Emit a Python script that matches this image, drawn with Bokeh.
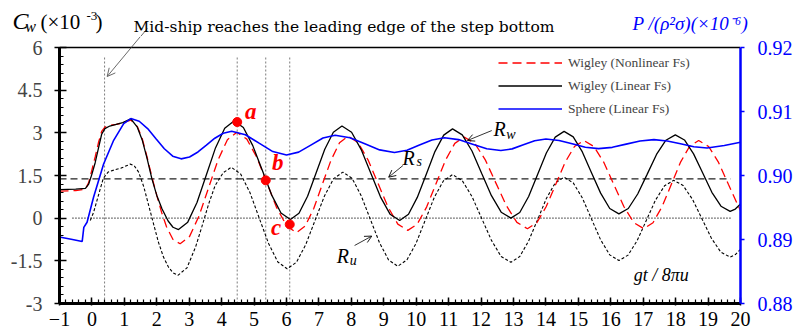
from bokeh.plotting import figure
from bokeh.layouts import column
from bokeh.models import (Range1d, LinearAxis, FixedTicker, Label, Arrow,
                          OpenHead, Legend, LegendItem)
from bokeh.embed import file_html
from bokeh.resources import INLINE

# ---- time axis (gt / 8*pi*u) and curves -------------------------------------
# Wigley hull, nonlinear free surface (Cw x 1e-3)
wn_x = [-1, -0.5, -0.2, -0.1, 0.0, 0.1, 0.2, 0.3, 0.4, 0.55, 0.75, 0.95, 1.2,
        1.4, 1.55, 1.7, 1.85, 2.0, 2.15, 2.3, 2.5, 2.72,
        3.012, 3.303, 3.595, 3.887, 4.178, 4.47,
        4.777, 5.083, 5.39, 5.697, 6.003, 6.31,
        6.575, 6.84, 7.105, 7.37, 7.635, 7.9,
        8.207, 8.513, 8.82, 9.127, 9.433, 9.74,
        10.03, 10.32, 10.61, 10.9, 11.19, 11.48,
        11.805, 12.13, 12.455, 12.78, 13.105, 13.43,
        13.72, 14.01, 14.3, 14.59, 14.88, 15.17,
        15.478, 15.787, 16.095, 16.403, 16.712, 17.02,
        17.302, 17.583, 17.865, 18.147, 18.428, 18.71,
        19.017, 19.323, 19.63, 19.937, 20.0]
wn_y = [0.95, 0.97, 1.02, 1.25, 1.7, 2.15, 2.65, 3.05, 3.2, 3.26, 3.3, 3.35, 3.45,
        3.22, 2.8, 2.15, 1.45, 0.8, 0.2, -0.3, -0.75, -0.90,
        -0.64, 0.08, 1.06, 2.04, 2.76, 3.02,
        2.78, 2.14, 1.26, 0.37, -0.27, -0.51,
        -0.28, 0.34, 1.19, 2.03, 2.65, 2.88,
        2.66, 2.05, 1.23, 0.40, -0.21, -0.43,
        -0.21, 0.39, 1.21, 2.03, 2.63, 2.85,
        2.63, 2.05, 1.24, 0.44, -0.15, -0.37,
        -0.16, 0.41, 1.18, 1.96, 2.52, 2.73,
        2.52, 1.96, 1.18, 0.41, -0.16, -0.37,
        -0.16, 0.41, 1.18, 1.96, 2.52, 2.73,
        2.52, 1.96, 1.18, 0.41, 0.27]

# Wigley hull, linear free surface: R_w
wl_x = [-1, -0.5, -0.2, -0.1, 0.0, 0.1, 0.2, 0.3, 0.4, 0.55, 0.75, 0.95, 1.2,
        1.4, 1.55, 1.7, 1.85, 2.0, 2.16, 2.35, 2.5, 2.67,
        2.955, 3.24, 3.525, 3.81, 4.095, 4.38,
        4.67, 4.96, 5.25, 5.54, 5.83, 6.12,
        6.385, 6.65, 6.915, 7.18, 7.445, 7.71,
        8.007, 8.303, 8.6, 8.897, 9.193, 9.49,
        9.762, 10.033, 10.305, 10.577, 10.848, 11.12,
        11.42, 11.72, 12.02, 12.32, 12.62, 12.92,
        13.193, 13.467, 13.74, 14.013, 14.287, 14.56,
        14.842, 15.123, 15.405, 15.687, 15.968, 16.25,
        16.54, 16.83, 17.12, 17.41, 17.7, 17.99,
        18.272, 18.553, 18.835, 19.117, 19.398, 19.68,
        19.84, 20.0]
wl_y = [1.0, 1.02, 1.05, 1.2, 1.55, 1.95, 2.45, 2.95, 3.15, 3.24, 3.3, 3.36, 3.49,
        3.2, 2.75, 2.1, 1.38, 0.8, 0.33, -0.1, -0.32, -0.40,
        -0.14, 0.55, 1.51, 2.47, 3.16, 3.42,
        3.19, 2.55, 1.69, 0.82, 0.18, -0.05,
        0.17, 0.77, 1.6, 2.42, 3.02, 3.24,
        3.02, 2.41, 1.58, 0.75, 0.14, -0.08,
        0.14, 0.73, 1.53, 2.34, 2.92, 3.14,
        2.93, 2.36, 1.57, 0.79, 0.21, 0.0,
        0.2, 0.76, 1.53, 2.29, 2.85, 3.05,
        2.86, 2.33, 1.6, 0.88, 0.34, 0.15,
        0.34, 0.85, 1.54, 2.24, 2.74, 2.93,
        2.75, 2.26, 1.59, 0.91, 0.42, 0.24,
        0.32, 0.5]

# Wigley hull, linear free surface: R_u component
ru_x = [-0.05, 0.05, 0.15, 0.25, 0.35, 0.5, 0.7, 0.9, 1.18,
        1.3, 1.44, 1.6, 1.75, 1.9, 2.05, 2.2, 2.36, 2.5, 2.65,
        2.93, 3.2, 3.39, 3.6, 3.8, 4.05, 4.3,
        4.587, 4.873, 5.16, 5.447, 5.733, 6.02,
        6.307, 6.593, 6.88, 7.167, 7.453, 7.74,
        8.022, 8.303, 8.585, 8.867, 9.148, 9.43,
        9.712, 9.993, 10.275, 10.557, 10.838, 11.12,
        11.42, 11.72, 12.02, 12.32, 12.62, 12.92,
        13.193, 13.467, 13.74, 14.013, 14.287, 14.56,
        14.842, 15.123, 15.405, 15.687, 15.968, 16.25,
        16.532, 16.813, 17.095, 17.377, 17.658, 17.94,
        18.23, 18.52, 18.81, 19.1, 19.39, 19.68,
        19.84, 20.0]
ru_y = [-0.08, 0.2, 0.6, 1.0, 1.4, 1.62, 1.7, 1.76, 1.9,
        1.85, 1.62, 1.1, 0.45, -0.2, -0.84, -1.35, -1.72, -1.92, -2.01,
        -1.75, -1.0, -0.3, 0.5, 1.15, 1.6, 1.79,
        1.55, 0.9, 0.0, -0.89, -1.54, -1.78,
        -1.55, -0.93, -0.08, 0.77, 1.39, 1.62,
        1.4, 0.79, -0.04, -0.86, -1.47, -1.69,
        -1.47, -0.89, -0.08, 0.73, 1.31, 1.53,
        1.32, 0.76, -0.01, -0.78, -1.35, -1.55,
        -1.35, -0.8, -0.06, 0.69, 1.24, 1.44,
        1.24, 0.71, -0.03, -0.76, -1.29, -1.49,
        -1.3, -0.79, -0.08, 0.63, 1.14, 1.33,
        1.15, 0.66, -0.02, -0.7, -1.19, -1.37,
        -1.28, -1.1]

# Sphere, linear free surface: pressure P/(rho^2 sigma) x 1e-6 (right axis)
sp_x = [-1, -0.6, -0.3, -0.25, -0.15, 0.05, 0.36, 0.67, 0.98, 1.2,
        1.458, 1.717, 1.975, 2.233, 2.492, 2.75,
        3.01, 3.27, 3.53, 3.79, 4.05, 4.31,
        4.733, 5.155, 5.578, 6.0,
        6.375, 6.75, 7.125, 7.5,
        7.958, 8.415, 8.873, 9.33,
        9.715, 10.1, 10.485, 10.87,
        11.305, 11.74, 12.175, 12.61,
        12.958, 13.305, 13.653, 14.0,
        14.405, 14.81, 15.215, 15.62,
        16.048, 16.475, 16.903, 17.33,
        17.74, 18.15, 18.56, 18.97,
        19.5, 20.0]
sp_y = [0.8904, 0.8900, 0.8897, 0.8919, 0.8927, 0.8966, 0.9018, 0.9055, 0.9081, 0.9089,
        0.90848, 0.90733, 0.90575, 0.90418, 0.90302, 0.9026,
        0.90289, 0.90368, 0.90475, 0.90583, 0.90661, 0.9069,
        0.90636, 0.90505, 0.90374, 0.9032,
        0.90365, 0.90475, 0.90585, 0.9063,
        0.9059, 0.90495, 0.904, 0.9036,
        0.90394, 0.90475, 0.90556, 0.9059,
        0.90561, 0.9049, 0.90419, 0.9039,
        0.90416, 0.9048, 0.90544, 0.9057,
        0.90548, 0.90495, 0.90442, 0.9042,
        0.9044, 0.9049, 0.9054, 0.9056,
        0.9054, 0.90495, 0.9045, 0.9043,
        0.9047, 0.9052]

# steady component R_s and the zero reference
rs_x = [-1, 19.7]
rs_y = [1.38, 1.38]
zero_x = [-0.6, 19.7]
zero_y = [0.0, 0.0]

# marked instants a, b, c and the mid-ship event
pt_x = [4.48, 5.36, 6.1]
pt_y = [3.38, 1.33, -0.22]
pt_labels = ["a", "b", "c"]
midship_x = 0.39

x_ticks = list(range(-1, 21))
y_ticks = [-3, -1.5, 0, 1.5, 3, 4.5, 6]
y_tick_labels = ["-3", "-1.5", "0", "1.5", "3", "4.5", "6"]
p_ticks = [0.88, 0.89, 0.90, 0.91, 0.92]
p_tick_labels = ["0.88", "0.89", "0.90", "0.91", "0.92"]

# ---- geometry ----------------------------------------------------------------
W, H = 795, 333
B_LEFT, B_RIGHT, B_BOTTOM = 59, 53, 30
BOX_TOP = 47          # distance of the plotting box from the page top
TOP_PAD = 11          # part of that distance that belongs to the main canvas
BOX_H = 256
H_HEAD = BOX_TOP - TOP_PAD
H_MAIN = H - H_HEAD
X0, X1 = -1, 20
Y0, Y1 = -3, 6
P0, P1 = 0.88, 0.92
px_per_x = (W - B_LEFT - B_RIGHT) / (X1 - X0)
px_per_y = BOX_H / (Y1 - Y0)
Y_TOP = Y1 + TOP_PAD / px_per_y
P_TOP = P0 + (P1 - P0) * (Y_TOP - Y0) / (Y1 - Y0)

SERIF = "Liberation Serif"
BLUE = "#0000ff"
RED = "#ff0000"
DESCENT = {"Liberation Serif": 0.216, "DejaVu Serif": 0.236}

# ---- main plotting box -------------------------------------------------------
p = figure(width=W, height=H_MAIN, x_range=Range1d(X0, X1), y_range=Range1d(Y0, Y_TOP),
           title=None, output_backend="svg", toolbar_location=None)
p.frame_align = False
p.min_border = 0
p.min_border_left = B_LEFT
p.min_border_right = B_RIGHT
p.min_border_top = 0
p.min_border_bottom = B_BOTTOM
p.xgrid.visible = False
p.ygrid.visible = False
p.outline_line_color = None
p.background_fill_color = "white"
p.border_fill_color = "white"

# bottom axis
xa = p.xaxis[0]
xa.ticker = FixedTicker(ticks=x_ticks,
                        minor_ticks=[round(-1 + 0.2 * i, 1) for i in range(106)])
xa.axis_line_width = 3
xa.major_tick_line_width = 1.5
xa.minor_tick_line_width = 1.2
xa.major_tick_in = 6
xa.major_tick_out = 2
xa.minor_tick_in = 4
xa.minor_tick_out = 0
xa.major_label_standoff = 6
xa.major_label_text_font = SERIF
xa.major_label_text_font_size = "20px"
xa.major_label_text_color = "black"

# left axis
ya = p.yaxis[0]
ya.bounds = (Y0, Y1)
ya.ticker = FixedTicker(ticks=y_ticks,
                        minor_ticks=[round(-3 + 0.3 * i, 1) for i in range(31)])
ya.major_label_overrides = {t: s for t, s in zip(y_ticks, y_tick_labels)}
ya.axis_line_width = 3
ya.major_tick_line_width = 1.5
ya.minor_tick_line_width = 1.2
ya.major_tick_in = 7
ya.major_tick_out = 5
ya.minor_tick_in = 4
ya.minor_tick_out = 0
ya.major_label_standoff = 12
ya.major_label_text_font = SERIF
ya.major_label_text_font_size = "20px"

# right axis for the sphere pressure
p.extra_y_ranges = {"p": Range1d(P0, P_TOP)}
ra = LinearAxis(y_range_name="p", bounds=(P0, P1))
ra.ticker = FixedTicker(ticks=p_ticks, minor_ticks=[])
ra.major_label_overrides = {t: s for t, s in zip(p_ticks, p_tick_labels)}
ra.axis_line_color = BLUE
ra.axis_line_width = 2.5
ra.major_tick_line_color = BLUE
ra.major_tick_line_width = 1.5
ra.major_tick_in = 0
ra.major_tick_out = 4
ra.minor_tick_line_color = None
ra.major_label_standoff = 13
ra.major_label_text_font = SERIF
ra.major_label_text_font_size = "20px"
ra.major_label_text_color = BLUE
p.add_layout(ra, "right")

# top edge of the plotting box
p.segment(x0=[X0], y0=[Y1], x1=[X1], y1=[Y1], line_color="black", line_width=1.5)

# reference lines
p.segment(x0=[midship_x] + pt_x, y0=Y0, x1=[midship_x] + pt_x, y1=5.65,
          line_color="#444444", line_width=0.7, line_dash="2 2")
p.line(rs_x, rs_y, line_color="#222222", line_width=1.3, line_dash="7 4")
p.line(zero_x, zero_y, line_color="black", line_width=1.2, line_dash="1 2")

# curves
p.line(ru_x, ru_y, line_color="black", line_width=1.1, line_dash="3 2")
r_wn = p.line(wn_x, wn_y, line_color=RED, line_width=1.3, line_dash="9 5")
r_wl = p.line(wl_x, wl_y, line_color="black", line_width=1.3)
r_sp = p.line(sp_x, sp_y, line_color=BLUE, line_width=1.6, y_range_name="p")
p.scatter(pt_x, pt_y, size=9, fill_color=RED, line_color=RED)

legend = Legend(items=[LegendItem(label="Wigley (Nonlinear Fs)", renderers=[r_wn]),
                       LegendItem(label="Wigley (Linear Fs)", renderers=[r_wl]),
                       LegendItem(label="Sphere (Linear Fs)", renderers=[r_sp])],
                location=(439, 183), glyph_width=64, glyph_height=23,
                label_height=23, label_standoff=6, spacing=0, padding=0, margin=0,
                label_text_font=SERIF, label_text_font_size="13.5px",
                border_line_alpha=0, background_fill_alpha=0)
p.add_layout(legend)

# ---- strip above: same data coordinates, extended to the page edges ---------
head = figure(frame_width=W, frame_height=H_HEAD,
              x_range=Range1d(X0 - B_LEFT / px_per_x, X1 + B_RIGHT / px_per_x),
              y_range=Range1d(Y_TOP, Y_TOP + H_HEAD / px_per_y),
              x_axis_type=None, y_axis_type=None, title=None,
              output_backend="svg", toolbar_location=None)
head.frame_align = False
head.min_border = 0
head.min_border_left = 0
head.min_border_right = 0
head.min_border_top = 0
head.min_border_bottom = 0
head.xgrid.visible = False
head.ygrid.visible = False
head.outline_line_color = None
head.background_fill_color = "white"
head.border_fill_color = "white"


def head_y(baseline_px):
    """Data y of a baseline given in pixels from the page top."""
    return Y_TOP + (H_HEAD - baseline_px) / px_per_y


def label(fig, x, y, text, size, color="black", style="normal", font=SERIF):
    # the text box is anchored at its bottom edge, so lift it by the font's
    # descent to put the baseline itself at y
    lift = DESCENT[font] * size / px_per_y
    fig.add_layout(Label(x=x, y=y + lift, text=text, text_font=font,
                         text_font_size=f"{size}px", text_color=color,
                         text_font_style=style, text_baseline="alphabetic"))


# axis titles
label(head, -2.445, head_y(26), "C", 24, style="italic")
label(head, -2.05, head_y(29.5), "w", 16, style="italic")
label(head, -1.584, head_y(26), "(\u00d710", 21)
label(head, -0.17, head_y(18), "-3", 13)
label(head, 0.107, head_y(26), ")", 21)
label(head, 16.62, head_y(27.5), "P /(\u03c1\u00b2\u03c3)(\u00d710\u207b\u2076)", 19,
      color=BLUE, style="italic")

# event annotation; its arrow runs from the headline down into the box
label(head, 1.275, head_y(30.5), "Mid-ship reaches the leading edge of the step bottom",
      15.5, font="DejaVu Serif")
ax0, ay0, ax1, ay1 = 1.70, head_y(28), 0.47, 4.98
xc = ax0 + (Y_TOP - ay0) / (ay1 - ay0) * (ax1 - ax0)
head.segment(x0=[ax0], y0=[ay0], x1=[xc], y1=[Y_TOP], line_color="#444444",
             line_width=0.8)
p.add_layout(Arrow(end=OpenHead(size=8, line_color="#444444", line_width=0.8),
                   x_start=xc, y_start=Y_TOP, x_end=ax1, y_end=ay1,
                   line_color="#444444", line_width=0.8))

label(p, 16.71, -2.12, "gt / 8\u03c0u", 18, style="italic")

# a, b, c markers
for (lx, ly), t in zip([(4.72, 3.59), (5.55, 1.78), (5.52, -0.5)], pt_labels):
    label(p, lx, ly, t, 23, color=RED, style="bold italic")

# component labels with arrows
for rx, ry, sub, sx, sy, bx0, by0, bx1, by1 in [
        (12.38, 2.98, "w", 12.78, 2.84, 12.33, 3.08, 11.58, 2.73),
        (9.58, 1.96, "s", 10.01, 1.89, 9.59, 1.85, 9.15, 1.44),
        (7.55, -1.49, "u", 7.95, -1.59, 8.10, -0.96, 8.63, -0.63)]:
    label(p, rx, ry, "R", 20, style="italic")
    label(p, sx, sy, sub, 14, style="italic")
    p.add_layout(Arrow(end=OpenHead(size=7, line_color="black", line_width=0.9),
                       x_start=bx0, y_start=by0, x_end=bx1, y_end=by1,
                       line_color="black", line_width=0.8))

open("out.html", "w").write(file_html(column(head, p, spacing=0), INLINE))
